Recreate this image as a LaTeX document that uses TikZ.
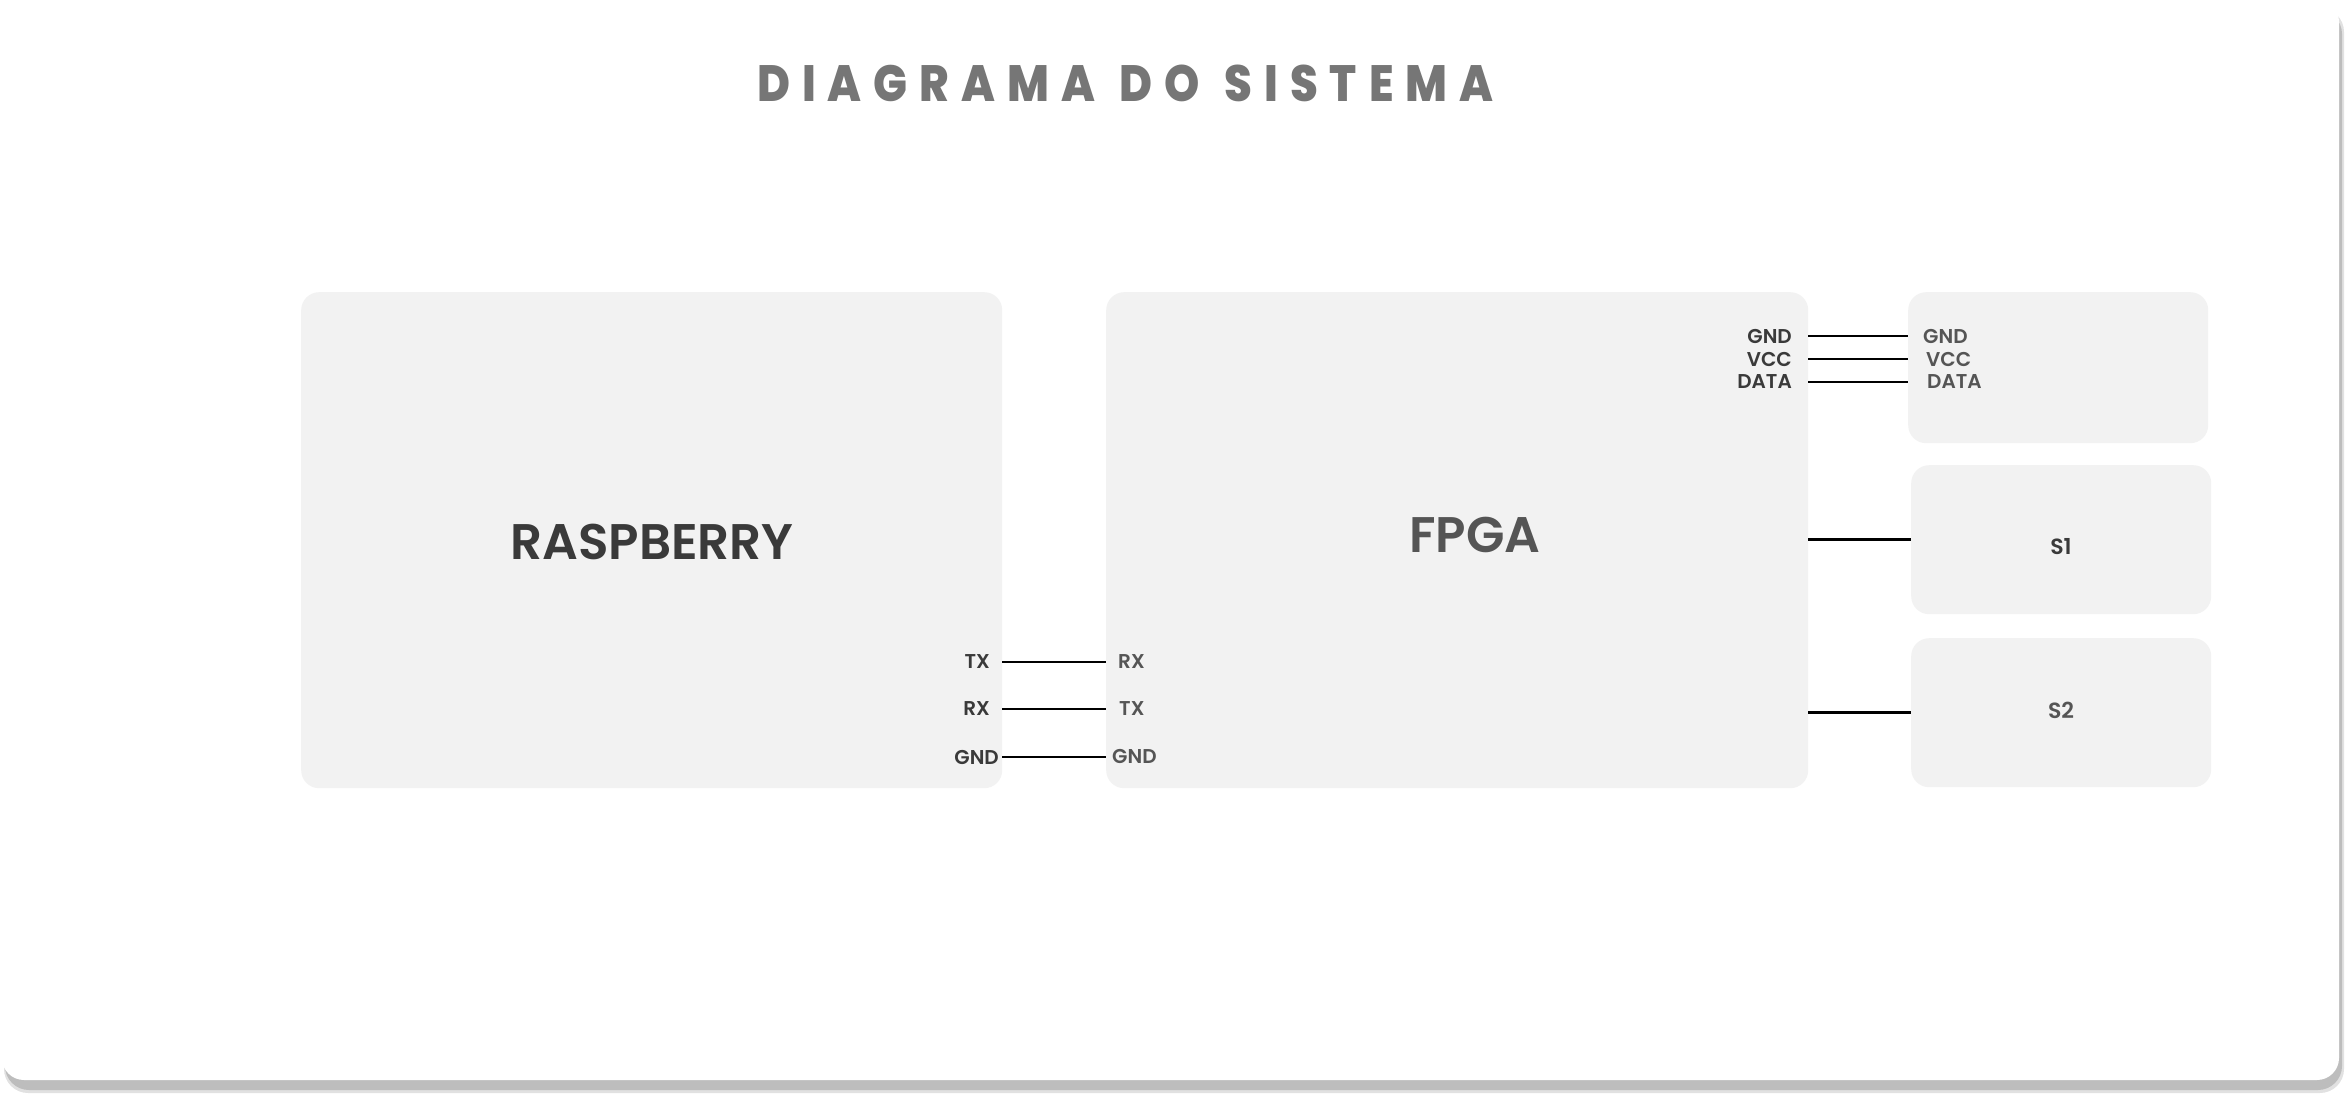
\documentclass[tikz,border=0pt]{standalone}
\usepackage{fontspec}
\usepackage{xcolor}
\usepackage{tikz}
\usetikzlibrary{positioning}

\newfontfamily\popsemi{Poppins SemiBold}
\newfontfamily\poptitle[FakeStretch=0.88,LetterSpace=23.5]{Poppins ExtraBold}

\definecolor{boxgray}{HTML}{F2F2F2}
\definecolor{inkdark}{HTML}{3A3A3A}
\definecolor{inkmid}{HTML}{555555}
\definecolor{titlegray}{HTML}{767676}
\definecolor{shadowgray}{HTML}{BDBDBD}

\begin{document}
\begin{tikzpicture}[x=1pt,y=-1pt,
  block/.style={fill=boxgray,rounded corners=18pt,inner sep=0pt,anchor=north west},
  bigtext/.style={font=\popsemi\fontsize{50}{60}\selectfont,inner sep=0pt},
  pin/.style={font=\popsemi\fontsize{20}{24}\selectfont,inner sep=0pt},
  wire/.style={line width=2.8pt,black}
]
\useasboundingbox (0,0) rectangle (2345,1094);

% card and shadow
\fill[shadowgray!45,rounded corners=24pt] (4,8) rectangle (2344,1093);
\fill[shadowgray,rounded corners=24pt] (5,10) rectangle (2342,1090);
\fill[white,rounded corners=22pt] (2,0) rectangle (2339,1080);

\node[font=\poptitle\fontsize{51}{60}\selectfont,text=titlegray,anchor=west,inner sep=0pt] (title) at (757,83) {DIAGRAMA\hspace{4pt} DO\hspace{4pt} SISTEMA};

% blocks
\node[block,minimum width=701pt,minimum height=496pt] (rasp) at (301,292) {};
\node[block,minimum width=702pt,minimum height=496pt] (fpga) at (1106,292) {};
\node[block,minimum width=300pt,minimum height=151pt] (sens) at (1908,292) {};
\node[block,minimum width=300pt,minimum height=149pt] (s1) at (1911,465) {};
\node[block,minimum width=300pt,minimum height=149pt] (s2) at (1911,638) {};

\node[bigtext,text=inkdark] (rasptxt) at (652,542) {RASPBERRY};
\node[bigtext,text=inkmid] (fpgatxt) at (1475,535) {FPGA};
\node[pin,font=\popsemi\fontsize{22}{26}\selectfont,text=inkdark] (s1txt) at (2061,547) {S1};
\node[pin,font=\popsemi\fontsize{22}{26}\selectfont,text=inkmid] (s2txt) at (2061,710) {S2};

% uart pins
\node[pin,anchor=east,text=inkdark] (rtx) at (990,662) {TX};
\node[pin,anchor=east,text=inkdark] (rrx) at (990,709) {RX};
\node[pin,anchor=east,text=inkdark] (rgnd) at (999,757) {GND};
\node[pin,anchor=west,text=inkmid] (frx) at (1118,662) {RX};
\node[pin,anchor=west,text=inkmid] (ftx) at (1119,709) {TX};
\node[pin,anchor=west,text=inkmid] (fgnd) at (1112,756) {GND};

% sensor pins
\node[pin,anchor=east,text=inkdark] (fsgnd) at (1792,336) {GND};
\node[pin,anchor=east,text=inkdark] (fsvcc) at (1792,359) {VCC};
\node[pin,anchor=east,text=inkdark] (fsdata) at (1792,382) {DATA};
\node[pin,anchor=west,text=inkmid] (sgnd) at (1923,336) {GND};
\node[pin,anchor=west,text=inkmid] (svcc) at (1926,359) {VCC};
\node[pin,anchor=west,text=inkmid] (sdata) at (1927,382) {DATA};

\draw[wire] (rasp.east |- rtx) -- (fpga.west |- rtx);
\draw[wire] (rasp.east |- rrx) -- (fpga.west |- rrx);
\draw[wire] (rasp.east |- rgnd) -- (fpga.west |- rgnd);
\draw[wire] (fpga.east |- fsgnd) -- (sens.west |- fsgnd);
\draw[wire] (fpga.east |- fsvcc) -- (sens.west |- fsvcc);
\draw[wire] (fpga.east |- fsdata) -- (sens.west |- fsdata);
\draw[wire] (fpga.east |- s1.west) -- (s1.west);
\draw[wire] (fpga.east |- s2.west) -- (s2.west);
\end{tikzpicture}
\end{document}
